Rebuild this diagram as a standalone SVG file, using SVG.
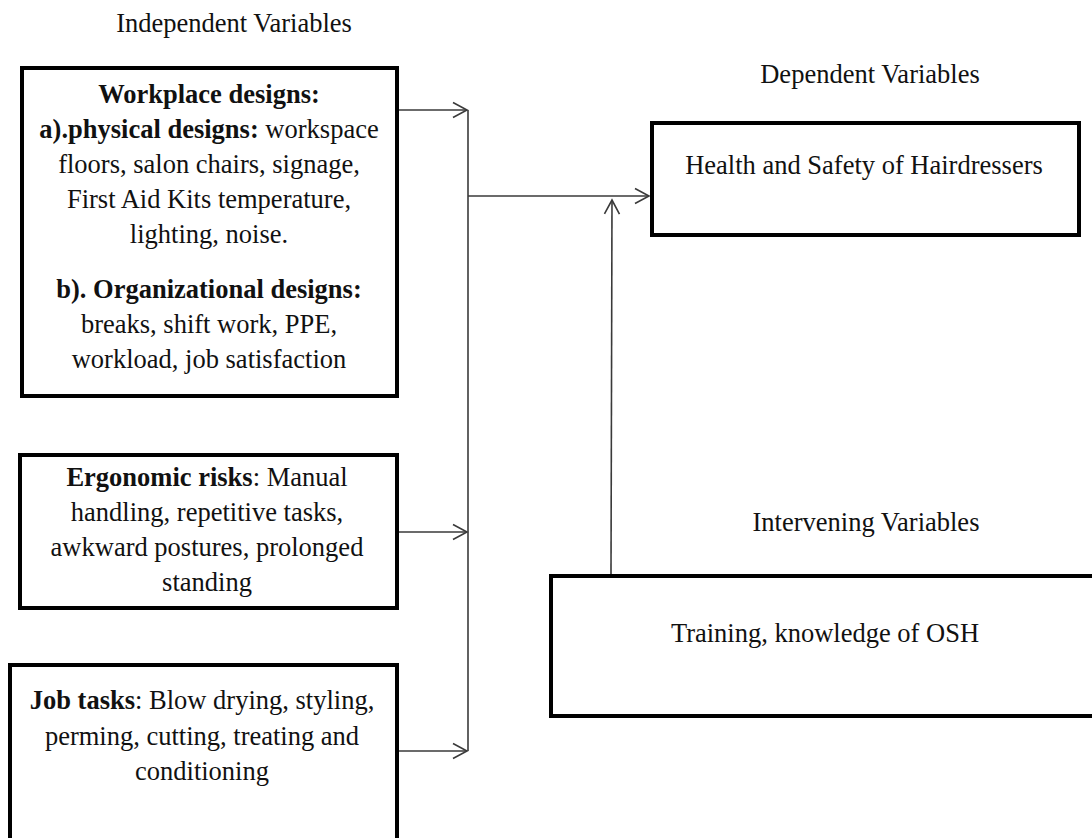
<svg xmlns="http://www.w3.org/2000/svg" width="1092" height="838" viewBox="0 0 1092 838">
<style>
text{font-family:"Liberation Serif","Times New Roman",serif;font-size:26.5px;fill:#111;}
.c{text-anchor:middle;}
.b{font-weight:bold;}
.box{fill:#fff;stroke:#000;stroke-width:4;}
.con{fill:none;stroke:#3a3a3a;stroke-width:1.6;}
</style>
<defs>
<marker id="arr" markerUnits="userSpaceOnUse" markerWidth="20" markerHeight="20" viewBox="-16 -10 20 20" refX="0" refY="0" orient="auto">
<path d="M-14,-7.5 L0,0 L-14,7.5" fill="none" stroke="#3a3a3a" stroke-width="1.6"/>
</marker>
</defs>
<rect width="1092" height="838" fill="#fff"/>
<text class="c" x="234" y="32">Independent Variables</text>
<text class="c" x="870" y="83">Dependent Variables</text>
<text class="c" x="866" y="531">Intervening Variables</text>
<g id="connectors">
<line class="con" x1="399" y1="110" x2="467" y2="110" marker-end="url(#arr)"/>
<line class="con" x1="468" y1="110" x2="468" y2="751"/>
<line class="con" x1="468" y1="196" x2="649" y2="196" marker-end="url(#arr)"/>
<line class="con" x1="399" y1="532" x2="467" y2="532" marker-end="url(#arr)"/>
<line class="con" x1="399" y1="751" x2="467" y2="751" marker-end="url(#arr)"/>
<line class="con" x1="611" y1="574" x2="612" y2="200" marker-end="url(#arr)"/>
</g>
<g id="workplace">
<rect class="box" x="22" y="68" width="375" height="328"/>
<text class="c" x="209" y="103"><tspan class="b">Workplace designs:</tspan></text>
<text class="c" x="209" y="138"><tspan class="b">a).physical designs: </tspan>workspace</text>
<text class="c" x="209" y="173">floors, salon chairs, signage,</text>
<text class="c" x="209" y="208">First Aid Kits temperature,</text>
<text class="c" x="209" y="243">lighting, noise.</text>
<text class="c" x="209" y="298"><tspan class="b">b). Organizational designs:</tspan></text>
<text class="c" x="209" y="333">breaks, shift work, PPE,</text>
<text class="c" x="209" y="368">workload, job satisfaction</text>
</g>
<g id="ergonomic">
<rect class="box" x="20" y="455" width="377" height="153"/>
<text class="c" x="207" y="486"><tspan class="b">Ergonomic risks</tspan>: Manual</text>
<text class="c" x="207" y="521">handling, repetitive tasks,</text>
<text class="c" x="207" y="556">awkward postures, prolonged</text>
<text class="c" x="207" y="591">standing</text>
</g>
<g id="jobtasks">
<rect class="box" x="10" y="665" width="387" height="180"/>
<text class="c" x="202" y="709"><tspan class="b">Job tasks</tspan>: Blow drying, styling,</text>
<text class="c" x="202" y="745">perming, cutting, treating and</text>
<text class="c" x="202" y="780">conditioning</text>
</g>
<g id="health">
<rect class="box" x="652" y="123" width="427" height="112"/>
<text class="c" x="864" y="174">Health and Safety of Hairdressers</text>
</g>
<g id="training">
<rect class="box" x="551" y="576" width="550" height="140"/>
<text class="c" x="825" y="642">Training, knowledge of OSH</text>
</g>
</svg>
